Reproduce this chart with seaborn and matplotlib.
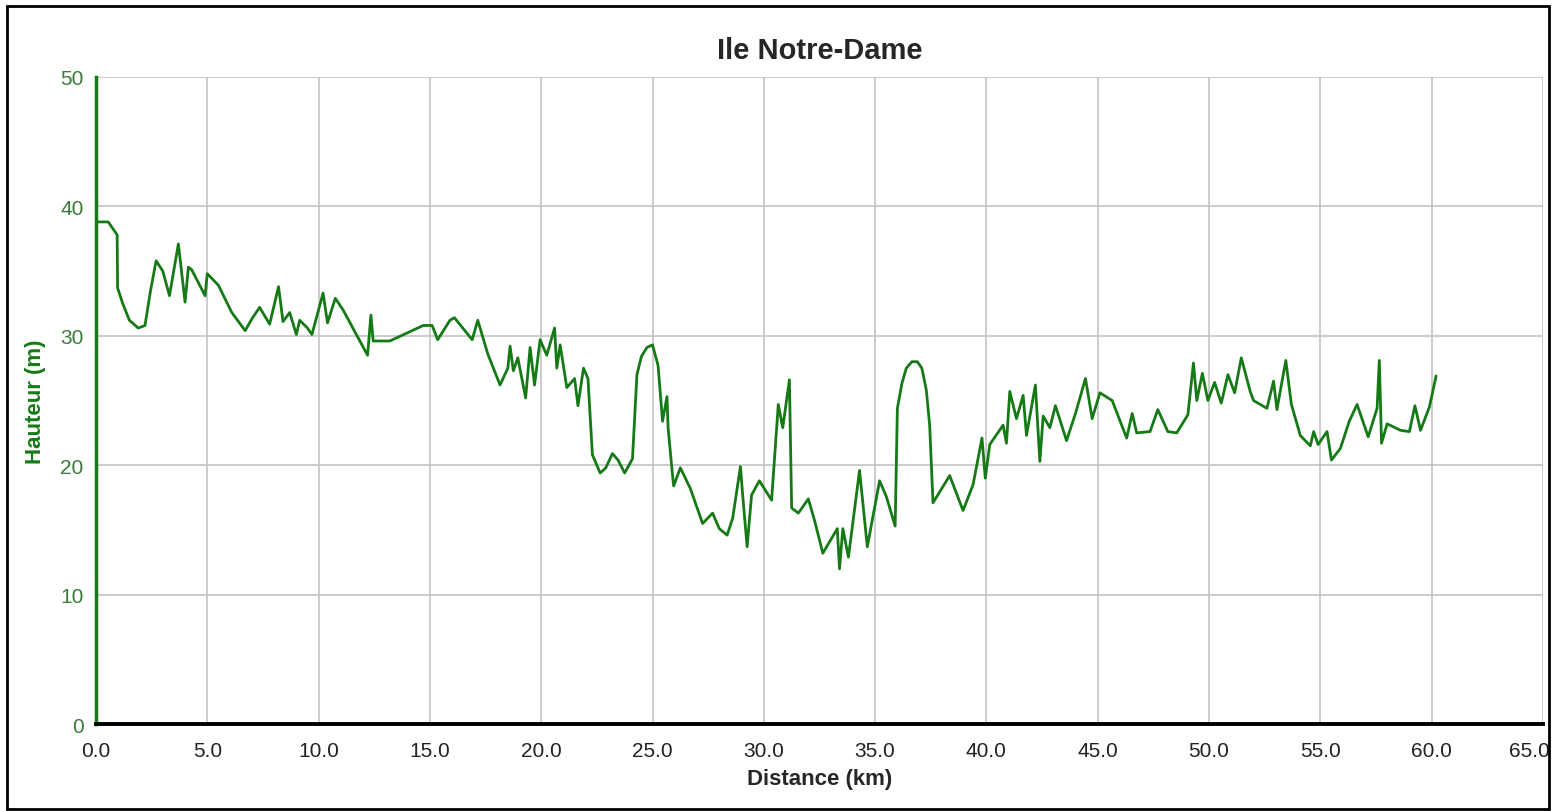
import numpy as np
import pandas as pd
import matplotlib
matplotlib.use("Agg")
import matplotlib.pyplot as plt
import matplotlib.transforms as mtransforms
from matplotlib.patches import Rectangle
import seaborn as sns

# Profil d'altitude (distance en km, hauteur en m)
distance_km = [
    0.0, 0.55, 0.95, 0.97, 1.2, 1.5, 1.9, 2.2, 2.45, 2.7, 3.0, 3.3, 3.7, 4.0, 4.15, 4.3, 4.9, 5.0, 5.5,
    6.1, 6.7, 7.0, 7.35, 7.8, 8.2, 8.4, 8.7, 9.0, 9.15, 9.5, 9.7, 10.2, 10.4, 10.75, 11.1, 11.6, 12.2,
    12.35, 12.45, 13.2, 14.7, 15.1, 15.35, 15.9, 16.1, 16.9, 17.15, 17.6, 18.15, 18.5, 18.6,
    18.75, 18.95, 19.3, 19.5, 19.7, 19.95, 20.25, 20.6, 20.7, 20.85, 21.15, 21.5, 21.65,
    21.9, 22.1, 22.3, 22.65, 22.9, 23.2, 23.45, 23.75, 24.1, 24.3, 24.5, 24.75, 25.0, 25.25, 25.45,
    25.65, 25.7, 25.9, 25.95, 26.25, 26.7, 27.25, 27.7, 28.0, 28.35, 28.6, 28.95, 29.05, 29.25,
    29.45, 29.8, 30.35, 30.65, 30.85, 31.15, 31.25, 31.55, 32.0, 32.3, 32.65, 33.3, 33.4, 33.55,
    33.8, 34.3, 34.65, 35.2, 35.5, 35.9, 36.0, 36.2, 36.4, 36.65, 36.9, 37.1, 37.3, 37.45, 37.6,
    38.35, 38.95, 39.4, 39.8, 39.95, 40.15, 40.75, 40.9, 41.05, 41.35, 41.65, 41.8, 42.2, 42.4,
    42.55, 42.85, 43.1, 43.6, 44.0, 44.45, 44.75, 45.1, 45.65, 46.3, 46.55, 46.75, 47.35, 47.7,
    48.15, 48.55, 49.05, 49.3, 49.45, 49.7, 49.95, 50.25, 50.55, 50.85, 51.15, 51.45, 51.85,
    52.0, 52.6, 52.9, 53.05, 53.45, 53.7, 54.1, 54.55, 54.7, 54.9, 55.3, 55.5, 55.9, 56.3,
    56.65, 57.15, 57.55, 57.65, 57.75, 58.0, 58.6, 59.0, 59.25, 59.5, 59.9, 60.2,
]
hauteur_m = [
    38.8, 38.8, 37.8, 33.7, 32.5, 31.2, 30.6, 30.8, 33.5, 35.8, 35.0, 33.1, 37.1, 32.6, 35.3, 35.1, 33.1, 34.8, 33.9,
    31.8, 30.4, 31.3, 32.2, 30.9, 33.8, 31.1, 31.8, 30.1, 31.2, 30.6, 30.1, 33.3, 31.0, 32.9, 32.0, 30.4, 28.5,
    31.6, 29.6, 29.6, 30.8, 30.8, 29.7, 31.2, 31.4, 29.7, 31.2, 28.6, 26.2, 27.5, 29.2,
    27.3, 28.3, 25.2, 29.1, 26.2, 29.7, 28.5, 30.6, 27.5, 29.3, 26.0, 26.7, 24.6,
    27.5, 26.7, 20.8, 19.4, 19.8, 20.9, 20.4, 19.4, 20.5, 27.0, 28.4, 29.1, 29.3, 27.7, 23.4,
    25.3, 22.9, 19.2, 18.4, 19.8, 18.2, 15.5, 16.3, 15.1, 14.6, 15.9, 19.9, 17.7, 13.7,
    17.7, 18.8, 17.3, 24.7, 22.9, 26.6, 16.7, 16.3, 17.4, 15.6, 13.2, 15.1, 12.0, 15.1,
    12.9, 19.6, 13.7, 18.8, 17.6, 15.3, 24.4, 26.3, 27.5, 28.0, 28.0, 27.5, 25.8, 23.1, 17.1,
    19.2, 16.5, 18.5, 22.1, 19.0, 21.6, 23.1, 21.7, 25.7, 23.6, 25.4, 22.3, 26.2, 20.3,
    23.8, 22.9, 24.6, 21.9, 24.0, 26.7, 23.6, 25.6, 25.0, 22.1, 24.0, 22.5, 22.6, 24.3,
    22.6, 22.5, 23.9, 27.9, 25.0, 27.1, 25.0, 26.4, 24.8, 27.0, 25.6, 28.3, 25.7,
    25.0, 24.4, 26.5, 24.3, 28.1, 24.7, 22.3, 21.5, 22.6, 21.6, 22.6, 20.4, 21.3, 23.4,
    24.7, 22.2, 24.4, 28.1, 21.7, 23.2, 22.7, 22.6, 24.6, 22.7, 24.5, 26.9,
]

x_ticks = np.arange(0, 65.1, 5)
y_ticks = [0, 10, 20, 30, 40, 50]

df = pd.DataFrame({"distance": distance_km, "hauteur": hauteur_m})

sns.set_style("whitegrid")
plt.rcParams["font.family"] = ["Liberation Sans", "DejaVu Sans"]

vert = "#157a15"

fig = plt.figure(figsize=(15.56, 8.12), dpi=100)
ax = fig.add_axes([0.0617, 0.107, 0.9299, 0.797])

sns.lineplot(data=df, x="distance", y="hauteur", ax=ax, color=vert, linewidth=2.0,
             sort=False)

ax.set_xlim(0, 65)
ax.set_ylim(0, 50)
ax.set_xticks(x_ticks)
ax.set_xticklabels([f"{v:.1f}" for v in x_ticks])
ax.set_yticks(y_ticks)
ax.grid(True, color="#c4c4c4", linewidth=1.2)

for side in ["top", "right"]:
    ax.spines[side].set_visible(False)
ax.spines["left"].set_color(vert)
ax.spines["left"].set_linewidth(2.5)
ax.spines["bottom"].set_color("black")
ax.spines["bottom"].set_linewidth(2.8)

ax.tick_params(axis="x", colors="black", length=6, width=2.5, labelsize=15,
               labelcolor="#222222", pad=6)
ax.tick_params(axis="y", colors="#555555", length=6, width=1.2, labelsize=15,
               labelcolor="#3a7a3a", pad=3)

# le dernier libellé touche le bord : on le cale à droite
last = ax.get_xticklabels()[-1]
last.set_horizontalalignment("right")
last.set_transform(last.get_transform()
                   + mtransforms.ScaledTranslation(7 / 100, 0, fig.dpi_scale_trans))

ax.set_title("Ile Notre-Dame", fontsize=21, fontweight="bold", pad=14)
ax.set_xlabel("Distance (km)", fontsize=16, fontweight="bold", labelpad=6)
ax.set_ylabel("Hauteur (m)", fontsize=16, fontweight="bold", color=vert, labelpad=10)

# Cadre autour de la figure
fig.patches.append(Rectangle((7 / 1556, 2 / 812), 1542 / 1556, 803 / 812,
                             transform=fig.transFigure, fill=False,
                             edgecolor="black", linewidth=2))

fig.savefig("out.png", dpi=100)
